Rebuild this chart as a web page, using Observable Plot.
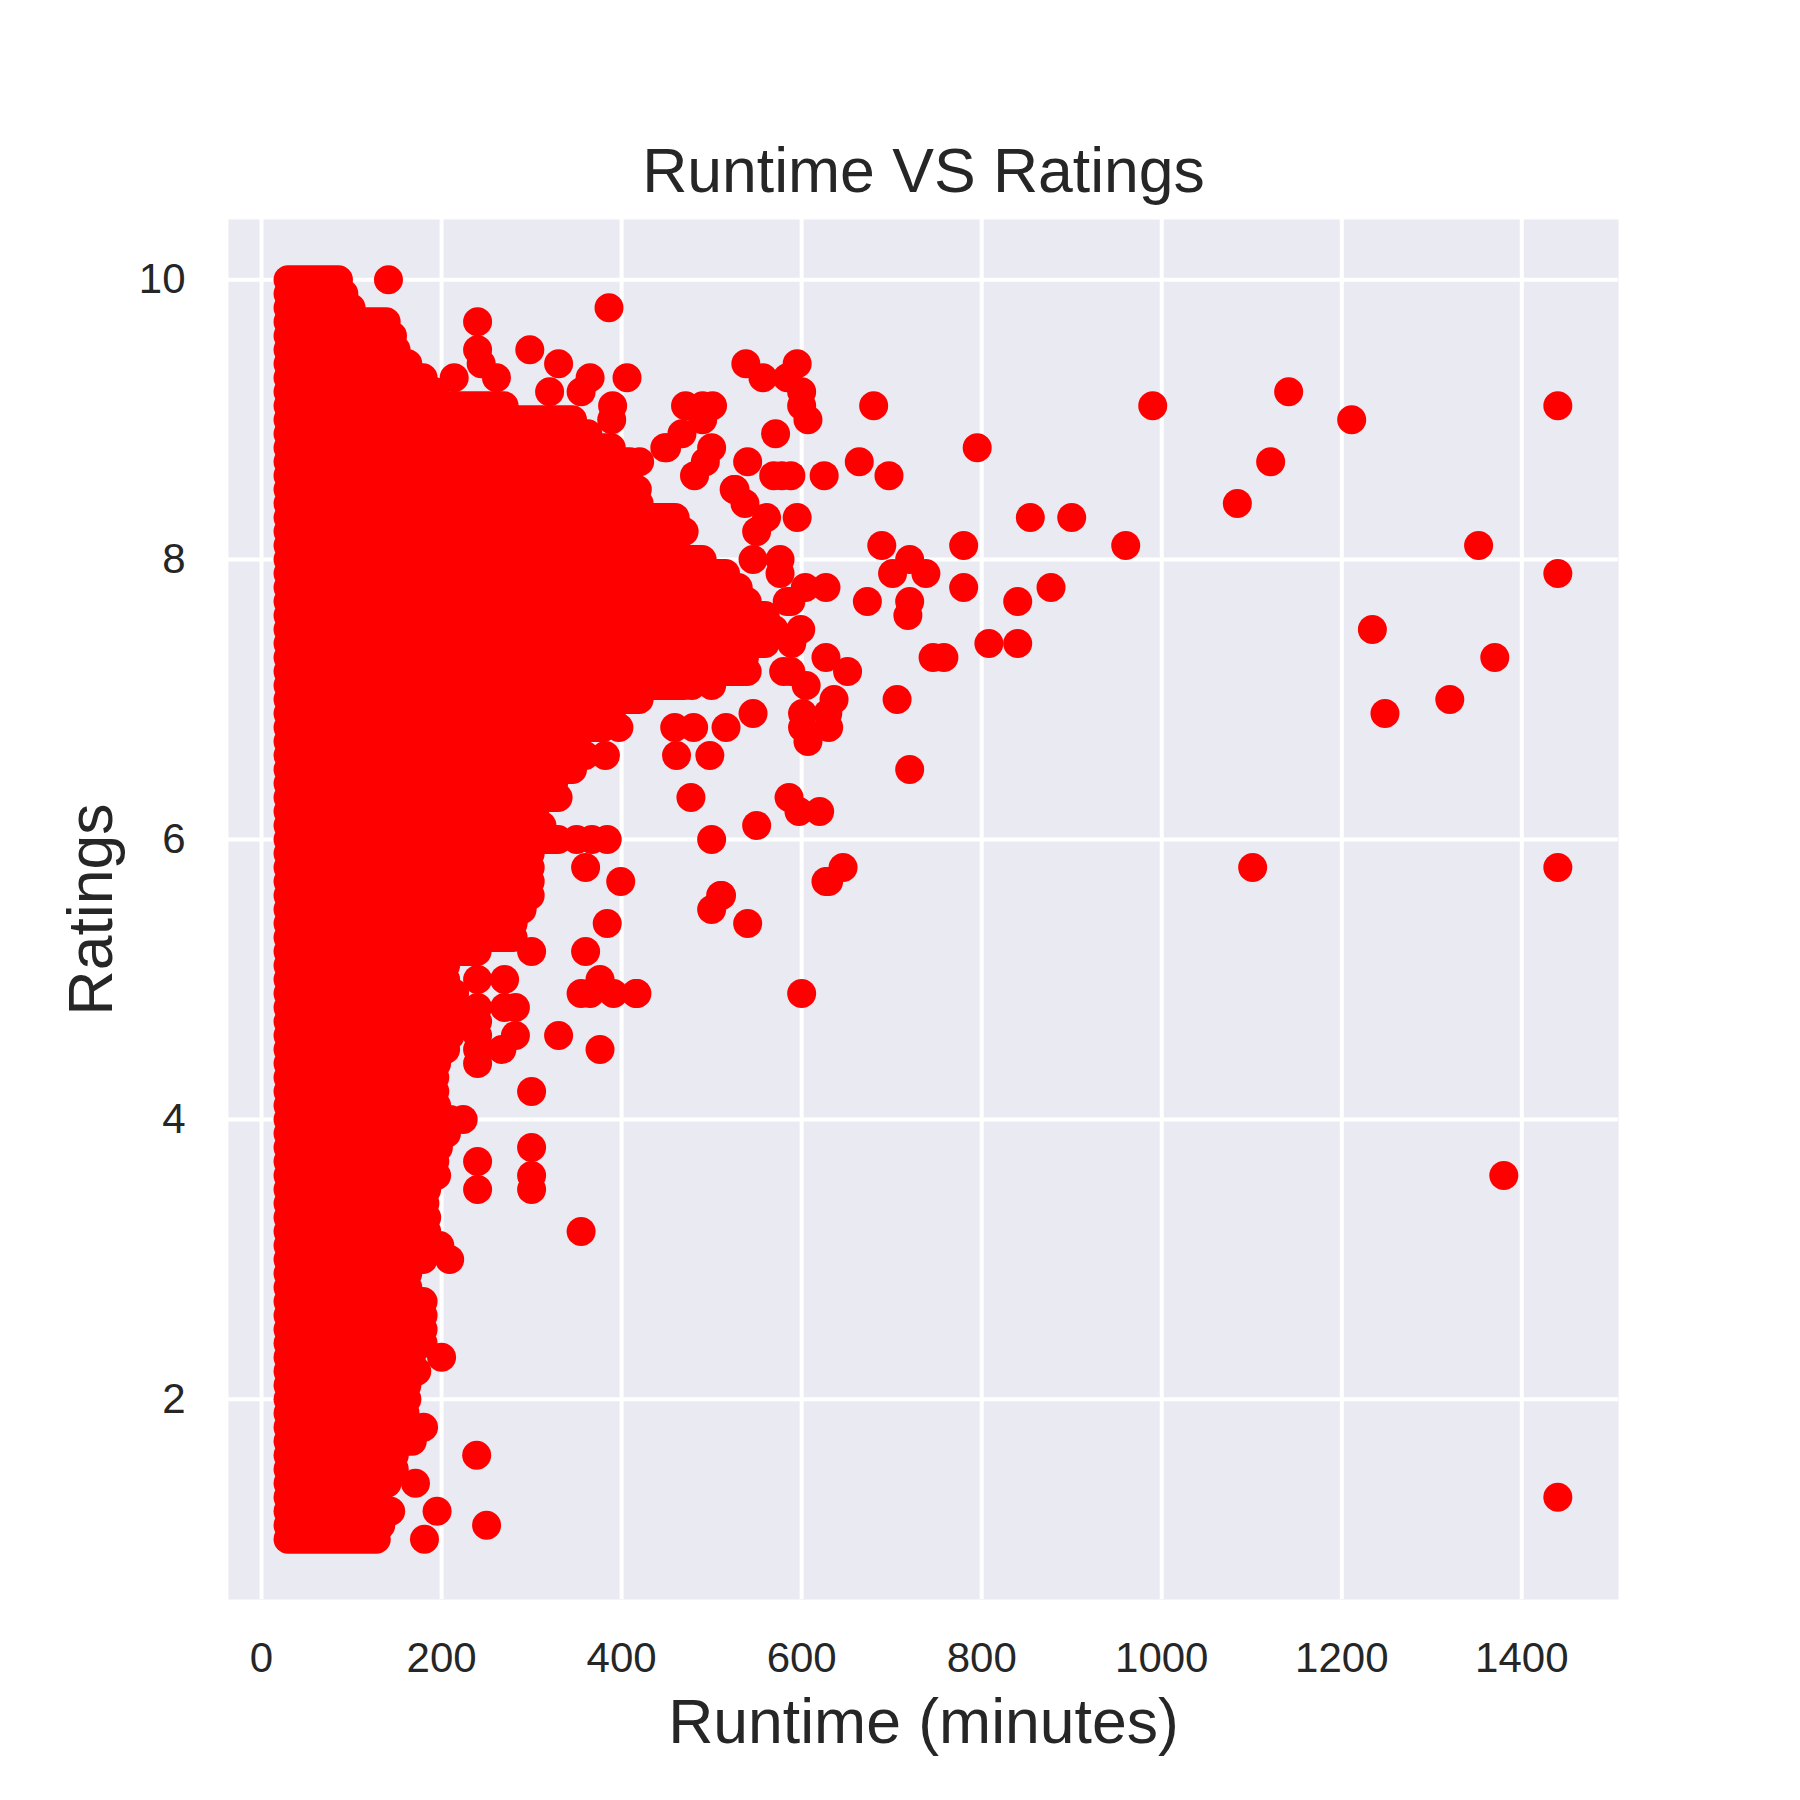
<!DOCTYPE html>
<html>
<head>
<meta charset="utf-8">
<script src="https://cdn.jsdelivr.net/npm/d3@7"></script>
<script src="https://cdn.jsdelivr.net/npm/@observablehq/plot@0.6"></script>
<style>
  body { margin: 0; background: #ffffff; }
  #chart { width: 1800px; height: 1800px; }
</style>
</head>
<body>
<div id="chart"></div>
<script>
// ---- Data ----
const titleText = "Runtime VS Ratings";
const xLabelText = "Runtime (minutes)";
const yLabelText = "Ratings";
const xTicks = [0, 200, 400, 600, 800, 1000, 1200, 1400];
const yTicks = [2, 4, 6, 8, 10];

// Dense cloud: for every rating value (0.1 steps) the runs of overlapping dots
// extend from the shortest runtime to the runtime below.
const rowRating = [
  1.0, 1.1, 1.2, 1.3, 1.4, 1.5, 1.6, 1.7, 1.8, 1.9,
  2.0, 2.1, 2.2, 2.3, 2.4, 2.5, 2.6, 2.7, 2.8, 2.9,
  3.0, 3.1, 3.2, 3.3, 3.4, 3.5, 3.6, 3.7, 3.8, 3.9,
  4.0, 4.1, 4.2, 4.3, 4.4, 4.5, 4.6, 4.7, 4.8, 4.9,
  5.0, 5.1, 5.2, 5.3, 5.4, 5.5, 5.6, 5.7, 5.8, 5.9,
  6.0, 6.1, 6.2, 6.3, 6.4, 6.5, 6.6, 6.7, 6.8, 6.9,
  7.0, 7.1, 7.2, 7.3, 7.4, 7.5, 7.6, 7.7, 7.8, 7.9,
  8.0, 8.1, 8.2, 8.3, 8.4, 8.5, 8.6, 8.7, 8.8, 8.9,
  9.0, 9.1, 9.2, 9.3, 9.4, 9.5, 9.6, 9.7, 9.8, 9.9,
  10.0
];
const rowMaxRuntime = [
  128, 133, 144, 123, 140, 148, 148, 168, 160, 160,
  162, 162, 173, 167, 180, 180, 180, 180, 163, 163,
  180, 184, 184, 184, 182, 184, 195, 193, 197, 206,
  210, 195, 193, 193, 195, 205, 210, 215, 215, 215,
  205, 205, 240, 280, 280, 290, 299, 299, 299, 299,
  330, 312, 304, 330, 325, 346, 360, 346, 380, 389,
  420, 470, 540, 537, 560, 570, 560, 540, 530, 516,
  490, 431, 470, 460, 420, 418, 401, 410, 389, 363,
  346, 270, 193, 180, 163, 150, 146, 139, 100, 92,
  86
];
const rowMinRuntime = 30;

// Individual, separately visible titles (runtime in minutes, rating)
const outRuntime = [
  141, 240, 386, 240, 298, 244, 330, 214, 261, 365, 406, 320, 355, 390, 389,
  471, 490, 501, 490, 467, 450, 500, 420, 493, 540, 481, 569, 578, 625, 525,
  537, 561, 595, 550, 546, 576, 576, 604, 627, 584, 599, 589, 627, 580, 605,
  500, 478, 546, 397, 459, 480, 516, 601, 601, 607, 382, 461, 498, 477, 586,
  550, 597, 620, 538, 595, 557, 584, 600, 600, 607, 571, 448, 526,
  540, 510, 500, 500, 416, 384, 399, 384, 376, 376, 360, 355, 360, 355, 330,
  300, 300, 300, 300, 240, 240, 224, 209, 198, 200, 239, 250, 195, 181, 171,
  180, 300, 270, 240, 240, 267, 365, 391, 417, 600, 627, 511, 282, 240, 270,
  282, 240, 240, 240, 350, 367,
  680, 990, 795, 664, 697, 588, 854, 900, 689, 780, 960, 720, 701, 738, 588,
  673, 720, 718, 780, 840, 877, 651, 588, 746, 758, 808, 840, 636, 706, 629,
  630, 720, 646, 630,
  1141, 1211, 1121, 1084, 1352, 1440, 1440, 1234, 1370, 1320, 1248, 1101, 1440,
  1380, 1440
];
const outRating = [
  10.0, 9.7, 9.8, 9.5, 9.5, 9.4, 9.4, 9.3, 9.3, 9.3, 9.3, 9.2, 9.2, 9.1, 9.0,
  9.1, 9.1, 9.1, 9.0, 8.9, 8.8, 8.8, 8.7, 8.7, 8.7, 8.6, 8.6, 8.6, 8.6, 8.5,
  8.4, 8.3, 8.3, 8.2, 8.0, 8.0, 7.9, 7.8, 7.8, 7.7, 7.5, 7.4, 7.3, 7.2, 7.1,
  7.1, 7.1, 6.9, 6.8, 6.8, 6.8, 6.8, 6.8, 6.9, 6.7, 6.6, 6.6, 6.6, 6.3, 6.3,
  6.1, 6.2, 6.2, 9.4, 9.4, 9.3, 9.3, 9.2, 9.1, 9.0, 8.9, 8.8, 8.5,
  5.4, 5.6, 5.5, 6.0, 4.9, 5.4, 5.7, 6.0, 5.0, 4.5, 5.2, 4.9, 5.8, 3.2, 4.6,
  4.2, 3.8, 3.6, 3.5, 3.5, 3.7, 4.0, 3.0, 3.1, 2.3, 1.6, 1.1, 1.2, 1.0, 1.4,
  1.8, 5.2, 5.0, 4.4, 5.0, 4.5, 4.9, 4.9, 4.9, 4.9, 5.7, 5.6, 4.6, 4.8, 4.8,
  4.8, 4.7, 4.6, 4.5, 6.0, 6.0,
  9.1, 9.1, 8.8, 8.7, 8.6, 8.6, 8.3, 8.3, 8.1, 8.1, 8.1, 8.0, 7.9, 7.9, 7.7,
  7.7, 7.7, 7.6, 7.8, 7.7, 7.8, 7.2, 7.2, 7.3, 7.3, 7.4, 7.4, 7.0, 7.0, 6.9,
  6.8, 6.5, 5.8, 5.7,
  9.2, 9.0, 8.7, 8.4, 8.1, 9.1, 7.9, 7.5, 7.3, 7.0, 6.9, 5.8, 5.8,
  3.6, 1.3
];

// ---- Tables built from the arrays ----
const rows = rowRating.map((r, i) => ({rating: r, min: rowMinRuntime, max: rowMaxRuntime[i]}));
const points = outRuntime.map((t, i) => ({runtime: t, rating: outRating[i]}));

const dotRadius = 14.5;
const pointColor = "#ff0000";
const plainNumber = d => String(d);

const chart = Plot.plot({
  width: 1800,
  height: 1800,
  marginLeft: 228,
  marginRight: 182,
  marginTop: 219,
  marginBottom: 201,
  style: {
    fontFamily: "'Liberation Sans', Arial, 'DejaVu Sans', sans-serif",
    color: "#262626",
    background: "#ffffff",
    overflow: "visible"
  },
  x: {domain: [-36.7, 1507.4]},
  y: {domain: [0.57, 10.43]},
  marks: [
    Plot.frame({fill: "#eaeaf2", stroke: null}),
    Plot.gridX(xTicks, {stroke: "#ffffff", strokeOpacity: 1, strokeWidth: 4}),
    Plot.gridY(yTicks, {stroke: "#ffffff", strokeOpacity: 1, strokeWidth: 4}),
    Plot.ruleY(rows, {
      y: "rating", x1: "min", x2: "max",
      stroke: pointColor, strokeWidth: dotRadius * 2, strokeLinecap: "round"
    }),
    Plot.dot(points, {x: "runtime", y: "rating", r: dotRadius, fill: pointColor, stroke: null}),
    Plot.axisX(xTicks, {anchor: "bottom", tickSize: 0, tickPadding: 43, fontSize: 42, label: null, tickFormat: plainNumber}),
    Plot.axisY(yTicks, {anchor: "left", tickSize: 0, tickPadding: 43, fontSize: 42, label: null, tickFormat: plainNumber}),
    Plot.text([titleText], {
      text: d => d, frameAnchor: "top", dy: -48,
      textAnchor: "middle", lineAnchor: "middle", fontSize: 62.5
    }),
    Plot.text([xLabelText], {
      text: d => d, frameAnchor: "bottom", dy: 123,
      textAnchor: "middle", lineAnchor: "middle", fontSize: 62.5
    }),
    Plot.text([yLabelText], {
      text: d => d, frameAnchor: "left", dx: -137, rotate: -90,
      textAnchor: "middle", lineAnchor: "middle", fontSize: 62.5
    })
  ]
});

document.getElementById("chart").appendChild(chart);
</script>
</body>
</html>
